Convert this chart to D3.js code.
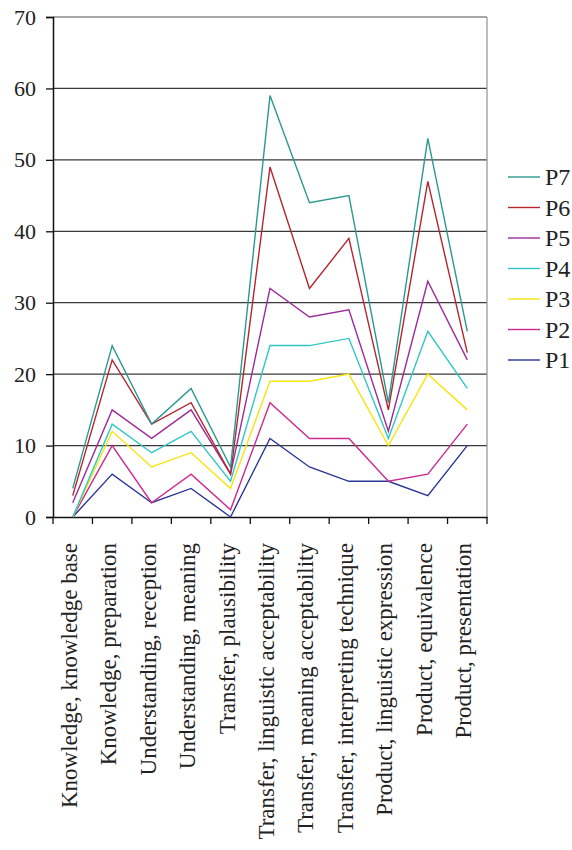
<!DOCTYPE html>
<html><head><meta charset="utf-8">
<script src="https://cdn.jsdelivr.net/npm/d3@7"></script>
<style>body{margin:0;background:#fff}svg{display:block}</style>
</head><body>
<svg id="c" width="572" height="850"></svg>
<script>
const categories = ["Knowledge, knowledge base","Knowledge, preparation","Understanding, reception","Understanding, meaning","Transfer, plausibility","Transfer, linguistic acceptability","Transfer, meaning acceptability","Transfer, interpreting technique","Product, linguistic expression","Product, equivalence","Product, presentation"];
const seriesNames = ["P7","P6","P5","P4","P3","P2","P1"];
const P7 = [4,24,13,18,7,59,44,45,16,53,26];
const P6 = [3,22,13,16,6,49,32,39,15,47,23];
const P5 = [2,15,11,15,6,32,28,29,12,33,22];
const P4 = [0,13,9,12,5,24,24,25,11,26,18];
const P3 = [0,12,7,9,4,19,19,20,10,20,15];
const P2 = [0,10,2,6,1,16,11,11,5,6,13];
const P1 = [0,6,2,4,0,11,7,5,5,3,10];
const yTicks = [0,10,20,30,40,50,60,70];
const colors = ["#2a9a90","#b3262e","#9b2c9c","#33c6c6","#f7e411","#cc2a8f","#2b3596"];
const seriesValues = [P7,P6,P5,P4,P3,P2,P1];

const svg = d3.select("#c");
const font = "'Liberation Serif', 'DejaVu Serif', serif";
const L = 53, R = 487, T = 17, B = 517;
const x = d3.scaleBand().domain(categories).range([L, R]);
const y = d3.scaleLinear().domain([0,70]).range([B, T]);

// gridlines
svg.append("g").selectAll("line").data(yTicks.filter(d=>d>0)).join("line")
  .attr("x1", L).attr("x2", R).attr("y1", d=>y(d)).attr("y2", d=>y(d))
  .attr("stroke", d=> d===70 ? "#888" : "#3a3a3a").attr("stroke-width", 1.3);
// right border
svg.append("line").attr("x1", R).attr("x2", R).attr("y1", T).attr("y2", B)
  .attr("stroke", "#999").attr("stroke-width", 1.3);

// y axis
const ya = svg.append("g").attr("transform", `translate(${L},0)`)
  .call(d3.axisLeft(y).tickValues(yTicks).tickSize(7).tickPadding(10));
ya.select(".domain").attr("stroke", "#111").attr("stroke-width", 1.5);
ya.selectAll(".tick line").attr("stroke", "#111").attr("stroke-width", 1.3);
ya.selectAll("text").attr("font-family", font).attr("font-size", 22).attr("fill", "#222");

// x axis
const xa = svg.append("g").attr("transform", `translate(0,${B})`)
  .call(d3.axisBottom(x).tickSize(0).tickFormat(""));
xa.select(".domain").attr("stroke", "#111").attr("stroke-width", 1.5);
const bounds = d3.range(categories.length + 1).map(i => i < categories.length ? x(categories[i]) : R);
xa.selectAll(".xt").data(bounds).join("line").attr("class","xt")
  .attr("x1", d=>d).attr("x2", d=>d).attr("y1", 0).attr("y2", 7)
  .attr("stroke", "#111").attr("stroke-width", 1.3);
svg.append("g").selectAll("text").data(categories).join("text")
  .attr("transform", d => `translate(${x(d) + x.bandwidth()/2 + 4},${B + 26}) rotate(-90)`)
  .attr("text-anchor", "end").attr("font-family", font).attr("font-size", 23).attr("fill", "#222")
  .text(d => d);

// lines
const line = d3.line().x((d,i) => x(categories[i]) + x.bandwidth()/2).y(d => y(d));
const order = [6,5,4,3,2,1,0];
svg.append("g").selectAll("path").data(order).join("path")
  .attr("d", i => line(seriesValues[i])).attr("fill", "none")
  .attr("stroke", i => colors[i]).attr("stroke-width", 1.4);

// legend
const lg = svg.append("g");
seriesNames.forEach((n, i) => {
  const cy = 177 + i * 30.5;
  lg.append("line").attr("x1", 508).attr("x2", 540).attr("y1", cy).attr("y2", cy)
    .attr("stroke", colors[i]).attr("stroke-width", 1.4);
  lg.append("text").attr("x", 545).attr("y", cy + 8).attr("font-family", font)
    .attr("font-size", 24).attr("fill", "#222").text(n);
});
</script>
</body></html>
